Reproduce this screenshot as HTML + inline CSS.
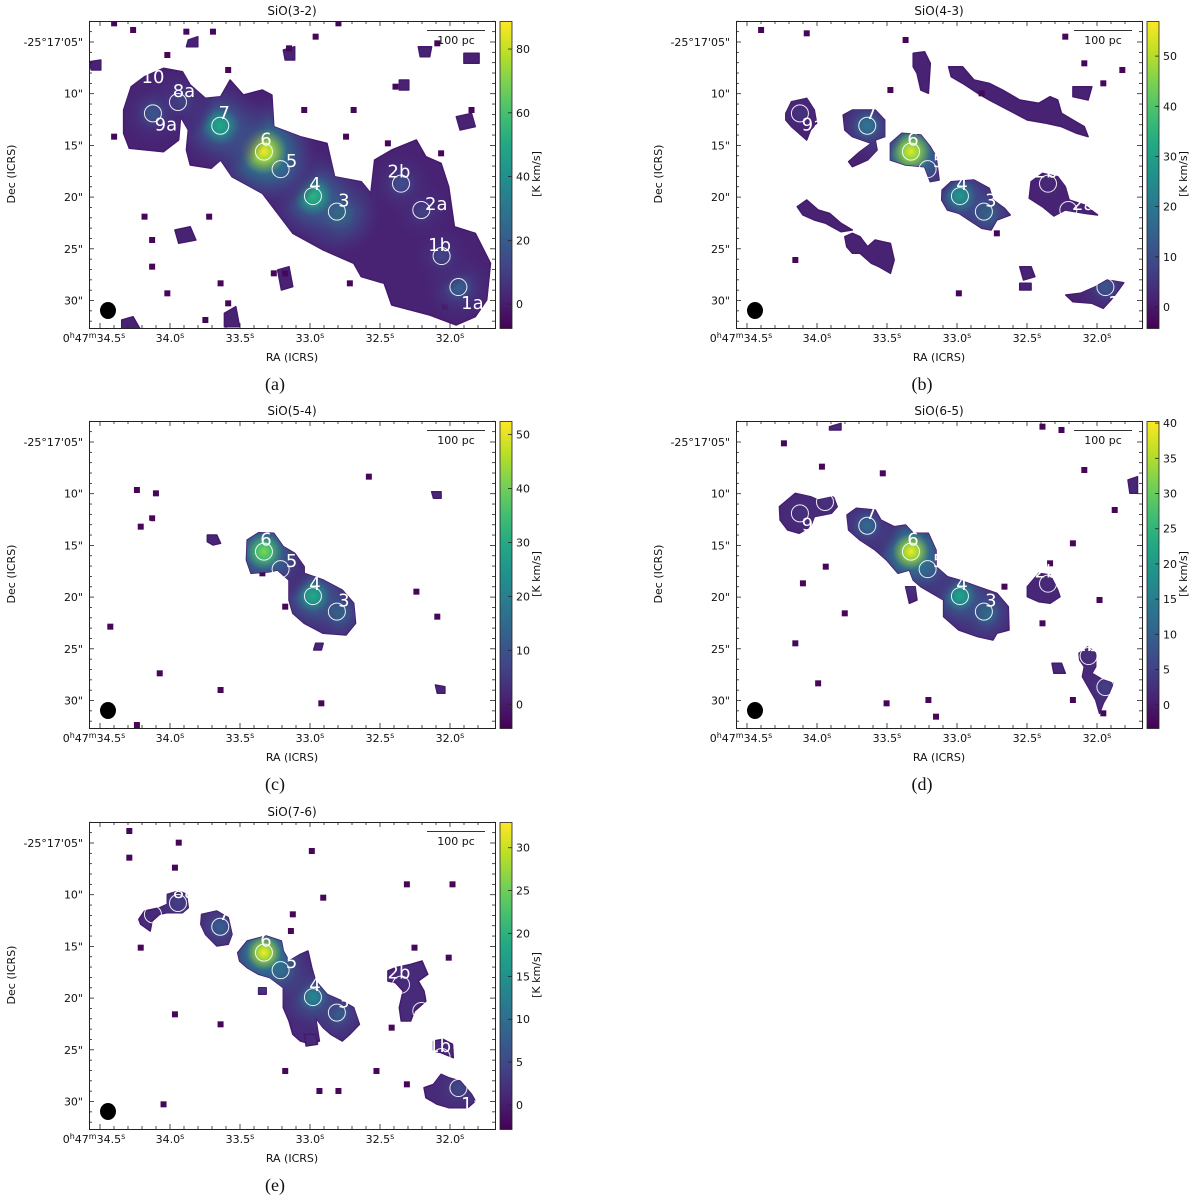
<!DOCTYPE html>
<html><head><meta charset="utf-8">
<style>
html,body{margin:0;padding:0;background:#fff;}
svg{display:block;}
text{font-family:"DejaVu Sans","Liberation Sans",sans-serif;}
.cap{font-family:"Liberation Serif",serif;}
</style></head>
<body>
<svg id="fig" width="1200" height="1202" viewBox="0 0 1200 1202" xmlns="http://www.w3.org/2000/svg"></svg>
<script>
// ---------- data ----------
const sourceNames = ["1a","1b","2a","2b","3","4","5","6","7","8a","9a","10"];
const sourceRA    = [31.94,32.06,32.205,32.35,32.808,32.979,33.21,33.329,33.641,33.943,34.122,34.236];
const sourceDec   = [28.7,25.7,21.25,18.7,21.4,19.9,17.3,15.6,13.1,10.8,11.9,7.5];
const raTicks  = [34.5,34.0,33.5,33.0,32.5,32.0];
const raTickLabels = ["34.5","34.0","33.5","33.0","32.5","32.0"];
const decTicks = [5,10,15,20,25,30];
const decTickLabels = ["-25\u00b017'05\"","10\"","15\"","20\"","25\"","30\""];
const panelTitles = ["SiO(3-2)","SiO(4-3)","SiO(5-4)","SiO(6-5)","SiO(7-6)"];
const panelCaptions = ["(a)","(b)","(c)","(d)","(e)"];
const cbarMin = [-7.5,-4.2,-4.4,-3.3,-2.8];
const cbarMax = [88.8,57,52.5,40.3,33.0];
const cbarTicks = [[0,20,40,60,80],[0,10,20,30,40,50],[0,10,20,30,40,50],[0,5,10,15,20,25,30,35,40],[0,5,10,15,20,25,30]];
// peak integrated intensities per source (order as sourceNames), per transition
const peakA = [22,12,12,15,50,55,25,88,50,18,18,5];
const peakB = [12,2,3,3,25,28,8,55,20,2,5,1];
const peakC = [0,0,0,0,22,30,8,42,0,0,0,0];
const peakD = [5,3,1,2,18,22,14,40,12,3,3,0];
const peakE = [5,1,1,1,10,14,14,33,8,4,1,0];
// emission outlines in map-grid units [col,row]
const blobsA = [[[32.5,33],[34.5,26],[38,23],[43,20.5],[48,21.5],[50,25.5],[54,29.5],[58,29],[60.5,24],[64,28.5],[69,27],[71.5,28.5],[72,38],[79,41],[86,43],[88,53],[95,54.5],[97.5,58],[98.5,48],[103,45],[109.5,42],[112,47],[116,49],[118,56],[119.5,68],[125,70],[129,79],[128,90],[125,95],[120,97.5],[113,94.5],[103,91.5],[101,85],[95,83],[93,79],[85,75],[77,70],[73,64],[69,58],[61,53],[58,48],[55.5,50.5],[50,49.5],[49,45],[49.5,39],[47.5,35],[47,42],[43,45.5],[34,44.5],[32.5,40]],
 [[46,69],[50,68],[51.5,72],[47,73]],[[73,81],[76,80],[77,86],[74,87]],[[59,94],[62,92],[63,98],[59,98]],[[32,96],[35,95],[37,99],[32,99]],[[49.5,12],[52,11],[52,14],[49,14]],[[74.5,15],[77.5,14],[77.5,18],[75,18]],[[110,14],[113.5,14],[113,17],[110.5,17]],[[120,35],[124,34],[125,38],[121,39]],[[122,16],[126,16],[126,19],[122,19]],[[23.5,18.5],[26.5,18],[26.5,21],[24,21]],[[105,24],[107.5,24],[107.5,27],[105,27]]];
const specksA = [[30,7],[35,9],[49,9.5],[56,9.5],[76,14.5],[83,11],[89,7],[115,13],[44,16.5],[60,21],[80,33],[93,33],[104,26],[124,33],[30,41],[62,41],[91,41],[102,43],[116,46],[75,82],[58,85],[60,91],[54,96],[72,82],[92,85],[117,92],[38,65],[40,80],[44,88],[88,62],[40,72],[55,65]];
const blobsB = [[[51.6,34.5],[54,33],[60,33],[62.5,36],[62.5,41],[60,42],[60.5,45],[58,48],[54,50],[53,48.5],[56,45.5],[59,43],[54,41],[52,39]],
 [[64,43],[67,40],[72,40.5],[74.5,44],[76,47],[76.8,54],[74.5,54.5],[73,50],[68,49.5],[64,48]],
 [[77.6,57],[80,54.5],[86,54],[90,56.5],[91,60],[94,62.5],[95.5,64.5],[92,66],[90.5,69],[88,68.5],[82,64],[79,63],[77.5,60]],
 [[101,54.5],[104,52],[108,53],[110,56],[111,60],[115,61.5],[118.5,64.5],[115,64],[110,63],[107,64.8],[104,62],[100.5,59.5]],
 [[36.5,34],[38,30.5],[42,29.5],[44,33],[44.6,37],[43,39],[42,42],[40,40],[38,38],[36.5,36]],
 [[110.1,88.5],[114,88],[118,86],[121,84],[125.4,84.8],[124,87],[122,90],[120,92.5],[117,91],[112,90.5]],
 [[79.3,20],[83,20],[86,24],[90,25],[93.5,27],[98,30],[103,31],[106,29],[108,30],[109,34],[112,36],[115,38],[116,41],[113,40],[109,38],[105,37],[100,36],[95,33],[90,30],[87,28],[83,25],[80,23]],
 [[52,71],[54,70],[56,71],[58,74],[60,72],[62,72.5],[64,73],[65,78],[64,82],[61,80],[59,79],[56,76],[54,76],[52.5,74]],
 [[39.5,62],[42,60],[45,63],[48,64],[51,67],[54,69],[51,69.5],[47,67],[44,66],[41,64.5]],
 [[70,16],[73,15.5],[74.5,19],[74,28],[72,27],[71,22],[70,20]],
 [[98,80],[101,80],[102,83],[99,84]],[[98,85],[101,85],[101,87],[98,87]],[[112,26],[117,26],[116,30],[112,29]]];
const specksB = [[30,9],[42,10],[68,12],[110,11],[115,19],[125,21],[64,27],[66,43],[88,28],[39,78],[120,25],[92,70],[82,88]];
const blobsC = [[[65,42],[68,39.8],[72,40],[74.5,44],[77.5,46],[80,50],[80,52],[85,54],[90,57],[93,61],[93.5,67],[91,70.5],[85,70],[80,67],[77,64],[76,60],[76,54],[73,51],[71,51.5],[66,52],[64.8,48]],
 [[54.5,40.5],[57,40.5],[58,43],[56,43.5],[54.5,42.5]],[[113.5,27.5],[116,27.5],[116,29.5],[114,29.5]],[[114.5,85.5],[117,86],[117,88],[115,88]],[[83,73],[85,73],[84.5,75],[82.5,75]]];
const specksC = [[36,27],[41,28],[40,35.5],[37,38],[29,68],[42,82],[58,87],[97,23],[109.5,57.5],[115,65],[84.5,91],[36,97.5],[69,52],[75,62]];
const blobsD = [[[52.6,34.5],[55,32.5],[60,33],[61.5,36],[65,38],[68,37.5],[70,40],[74,40],[76,45],[76,50],[79,53],[82,54],[87,56],[92,58],[95,62],[95.2,69],[92,70],[91,72],[87,71],[82,69],[78,65],[78,60],[75,58],[72,56],[70,54],[69,51],[66,52],[63,48],[60,45],[56,42],[53,39]],
 [[34.8,32],[39,28],[43,29],[45,30],[49,29],[50,32],[48.5,34],[44,35],[43,38],[40,40],[37,39],[35,36]],
 [[100,56],[103,52],[106,52.5],[108,57],[108.6,59],[106,61],[103,60.5],[100,59]],
 [[113.6,76],[116,74],[118,76],[118,80],[117,82],[120,84],[122.6,85],[121.5,88],[120,91],[119,94],[118,90],[116,86],[114.5,83],[115,80],[113.8,78]],
 [[68,56],[70.5,56],[71,60],[69,61]],[[106.5,79],[109,79],[110,82],[107,82]],[[126.5,24],[129,23],[129,28],[127,28]],[[48,8],[51,7],[51,9],[48,9]]];
const specksD = [[46,20],[36,13],[62,22],[73,41],[47,50],[52,64],[39,73],[45,85],[63,91],[74,90],[104,8],[109,9],[115,21],[123,33],[112,43],[106,49],[94,56],[119,60],[104,67],[112,90],[120,94],[76,95],[41,55]];
const blobsE = [[[62.5,45.5],[65,42],[70,40.5],[74,42],[74.5,45],[76,48],[79,46],[81,45],[82,50],[83,54],[86,58],[90,60],[93,62],[94.5,67],[92,70],[90,72],[87,70],[85,68],[83,65],[84,72],[82,73],[79,72],[77,70],[76,66],[74.5,62],[74.5,56],[71,53],[68,52],[65,50],[63,48]],
 [[53,34],[57,33],[60,35],[61,40],[60,43],[57,43.5],[54,40],[52.8,37]],
 [[44,28],[47,27],[49,28],[49.5,32],[48,33.5],[44,33.5],[42,34],[40,36],[39.5,39],[37,37],[36.5,35.5],[38,33],[42,32],[44,31]],
 [[102,51],[104,50],[108,49],[111,48],[112.5,52],[110,54],[111.5,57],[112,60],[109,63],[108,66],[105.5,66],[105,62],[106,57],[104,54.5],[102,54]],
 [[111.5,86],[114,85],[116,82],[118,83],[121,84],[124,88],[125,90],[123,92],[118,92],[115,91],[112,89]],
 [[114,72],[116.5,71.5],[119,73],[119.2,77],[116,75.5],[114,75]],[[80,70],[83,70],[83.5,73],[80.5,73.5]],[[68,56],[70,56],[70,58],[68,58]]];
const specksE = [[34,9],[47,12.5],[34,17],[46,20],[82,15],[85,29],[77,34],[76.5,39],[37,44],[46,64],[58,67],[43,91],[75,81],[84,87],[89,87],[99,81],[107,25],[119,25],[109,44],[118,47],[103,68],[107,85]];

const peaks = [peakA,peakB,peakC,peakD,peakE];
const blobs = [blobsA,blobsB,blobsC,blobsD,blobsE];
const specks = [specksA,specksB,specksC,specksD,specksE];

// ---------- helpers ----------
const NS='http://www.w3.org/2000/svg';
const svg=document.getElementById('fig');
function mk(tag,parent){const e=document.createElementNS(NS,tag);parent.appendChild(e);return e;}
function at(e,o){for(const k in o)e.setAttribute(k,o[k]);return e;}
const VIR=["#440154","#482475","#414487","#355f8d","#2a788e","#21918c","#22a884","#44bf70","#7ad151","#bddf26","#fde725"];
function hx(h){return [parseInt(h.substr(1,2),16),parseInt(h.substr(3,2),16),parseInt(h.substr(5,2),16)];}
function viridis(t){t=Math.max(0,Math.min(1,t));const f=t*10,i=Math.min(9,Math.floor(f)),r=f-i;const a=hx(VIR[i]),b=hx(VIR[i+1]);
 return 'rgb('+a.map((v,k)=>Math.round(v+(b[k]-v)*r)).join(',')+')';}
function gridRA(col){return 35.214-col/36.82;}
function gridDec(row){return 0.938+row/3.102;}

const W=406,H=307;
const origins=[[89,21],[736,21],[89,421],[736,421],[89,822]];
const defs=mk('defs',svg);

origins.forEach((o,p)=>{
 const ox=o[0],oy=o[1];
 const xPix=ra=>ox+11+(34.5-ra)*140;
 const yPix=dec=>oy+21+(dec-5)*10.34;
 const vmin=cbarMin[p],vmax=cbarMax[p];
 const col=v=>viridis((v-vmin)/(vmax-vmin));
 const g=mk('g',svg);
 
 

 const cp=mk('clipPath',defs);at(cp,{id:'frame'+p});
 at(mk('rect',cp),{x:ox,y:oy,width:W,height:H});
 const bp=mk('clipPath',defs);at(bp,{id:'blob'+p});
 const img=mk('g',g);at(img,{'clip-path':'url(#frame'+p+')'});
 
 

 const base=col(1.5);
 blobs[p].forEach(poly=>{
  const pts=poly.map(q=>xPix(gridRA(q[0])).toFixed(1)+','+yPix(gridDec(q[1])).toFixed(1)).join(' ');
  const pg=mk('polygon',img);at(pg,{points:pts,fill:base,stroke:'#451a6c','stroke-width':1.5,'stroke-linejoin':'round'});
  
  
  at(mk('polygon',bp),{points:pts});
 });
 specks[p].forEach(q=>{
  const r=mk('rect',img);at(r,{x:xPix(gridRA(q[0]))-3,y:yPix(gridDec(q[1]))-3,width:6,height:6,fill:'#46075a'});
  
  
 });
 const glow=mk('g',img);at(glow,{'clip-path':'url(#blob'+p+')'});
 
 
 sourceNames.forEach((nm,i)=>{
  const v=peaks[p][i]; if(v<=1.5)return;
  const gid='gl'+p+'_'+i;
  const rg=mk('radialGradient',defs);at(rg,{id:gid});
  const mid=1.5+(v-1.5)*0.3, low=1.5+(v-1.5)*0.12;
  at(mk('stop',rg),{offset:'0',  'stop-color':col(v),'stop-opacity':1});
  at(mk('stop',rg),{offset:'0.14','stop-color':col(v*0.85),'stop-opacity':1});
  at(mk('stop',rg),{offset:'0.4','stop-color':col(mid),'stop-opacity':0.85});
  at(mk('stop',rg),{offset:'0.72','stop-color':col(low),'stop-opacity':0.5});
  at(mk('stop',rg),{offset:'1','stop-color':base,'stop-opacity':0});
  const c=mk('circle',glow);at(c,{cx:xPix(sourceRA[i]),cy:yPix(sourceDec[i]),r:22+Math.sqrt(v)*3.8,fill:'url(#'+gid+')'});
  
  
 });
 const labOff={"1a":[14,16],"1b":[-2,-11],"2a":[15,-6],"2b":[-2,-12],"3":[7,-11],"4":[2,-12],"5":[11,-8],"6":[2,-12],"7":[4,-13],"8a":[6,-11],"9a":[13,11],"10":[16,9]};
 sourceNames.forEach((nm,i)=>{
  const cx=xPix(sourceRA[i]),cy=yPix(sourceDec[i]);
  const c=mk('circle',img);at(c,{cx:cx,cy:cy,r:8.5,fill:'none',stroke:'#fff','stroke-width':1,'stroke-opacity':0.9});
  
  
  const t=mk('text',img);at(t,{x:cx+labOff[nm][0],y:cy+labOff[nm][1]+6,'font-size':18,fill:'#fff','text-anchor':'middle'});
  t.textContent=nm;
  
  
 });
 const be=mk('ellipse',g);at(be,{cx:ox+19,cy:oy+289.5,rx:8,ry:8.5,fill:'#000'});
 
 
 const sb=mk('line',g);at(sb,{x1:ox+338,x2:ox+396,y1:oy+9.5,y2:oy+9.5,stroke:'#333','stroke-width':1});
 
 
 const st=mk('text',g);at(st,{x:ox+367,y:oy+23,'font-size':11,'text-anchor':'middle',fill:'#111'});st.textContent='100 pc';
 
 
 const fr=mk('rect',g);at(fr,{x:ox+0.5,y:oy+0.5,width:W,height:H,fill:'none',stroke:'#222','stroke-width':1});
 
 
 const tk=mk('g',g);at(tk,{stroke:'#222','stroke-width':0.8});
 
 
 for(let ra=34.6;ra>=31.7;ra-=0.1){const x=xPix(ra);if(x<ox||x>ox+W)continue;
  const major=Math.abs(ra*2-Math.round(ra*2))<0.01;const L=major?5:3;
  at(mk('line',tk),{x1:x,x2:x,y1:oy+H,y2:oy+H-L});at(mk('line',tk),{x1:x,x2:x,y1:oy,y2:oy+L});}
 for(let d=3;d<=33;d++){const y=yPix(d);if(y<oy||y>oy+H)continue;const L=(d%5==0)?5:3;
  at(mk('line',tk),{x1:ox,x2:ox+L,y1:y,y2:y});at(mk('line',tk),{x1:ox+W,x2:ox+W-L,y1:y,y2:y});}
 raTicks.forEach((ra,i)=>{
  const t=mk('text',g);at(t,{x:xPix(ra),y:oy+321,'font-size':11,'text-anchor':'middle',fill:'#111'});
  
  
  if(i==0){
   const a=mk('tspan',t);a.textContent='0';const b=mk('tspan',t);at(b,{'font-size':8,dy:-4});b.textContent='h';
   const c=mk('tspan',t);at(c,{dy:4});c.textContent='47';const d=mk('tspan',t);at(d,{'font-size':8,dy:-4});d.textContent='m';
   const e=mk('tspan',t);at(e,{dy:4});e.textContent=raTickLabels[i];const f=mk('tspan',t);at(f,{'font-size':8,dy:-4});f.textContent='s';
   at(t,{x:xPix(ra)-6});
  } else {
   const e=mk('tspan',t);e.textContent=raTickLabels[i];const f=mk('tspan',t);at(f,{'font-size':8,dy:-4});f.textContent='s';
  }
 });
 decTicks.forEach((d,i)=>{
  const t=mk('text',g);at(t,{x:ox-6,y:yPix(d)+4,'font-size':11,'text-anchor':'end',fill:'#111'});t.textContent=decTickLabels[i];
  
  
 });
 const xl=mk('text',g);at(xl,{x:ox+203,y:oy+340,'font-size':11,'text-anchor':'middle',fill:'#111'});xl.textContent='RA (ICRS)';
 
 
 const yl=mk('text',g);at(yl,{x:0,y:0,'font-size':11,'text-anchor':'middle',fill:'#111',transform:'translate('+(ox-74)+','+(oy+153)+') rotate(-90)'});yl.textContent='Dec (ICRS)';
 
 
 const ti=mk('text',g);at(ti,{x:ox+203,y:oy-6,'font-size':12,'text-anchor':'middle',fill:'#111'});ti.textContent=panelTitles[p];
 
 
 const ca=mk('text',g);at(ca,{x:ox+186,y:oy+369,'font-size':18,'text-anchor':'middle',fill:'#111',class:'cap'});ca.textContent=panelCaptions[p];
 
 
 const cx0=ox+411,cw=12;
 const lg=mk('linearGradient',defs);at(lg,{id:'cb'+p,x1:0,y1:1,x2:0,y2:0});
 for(let k=0;k<=10;k++)at(mk('stop',lg),{offset:k/10,'stop-color':VIR[k]});
 const cb=mk('rect',g);at(cb,{x:cx0,y:oy+0.5,width:cw,height:H,fill:'url(#cb'+p+')',stroke:'#222','stroke-width':0.8});
 
 
 const cyPix=v=>oy+H-(v-vmin)/(vmax-vmin)*H;
 cbarTicks[p].forEach(v=>{
  const y=cyPix(v);
  at(mk('line',g),{x1:cx0+cw,x2:cx0+cw-4,y1:y,y2:y,stroke:'#222','stroke-width':0.8});
  const t=mk('text',g);at(t,{x:cx0+16,y:y+4,'font-size':11,fill:'#111'});t.textContent=v;
  
  
 });
 const cl=mk('text',g);at(cl,{x:0,y:0,'font-size':11,'text-anchor':'middle',fill:'#111',transform:'translate('+(ox+451)+','+(oy+153)+') rotate(-90)'});cl.textContent='[K km/s]';
 
 
});
</script>
</body></html>
